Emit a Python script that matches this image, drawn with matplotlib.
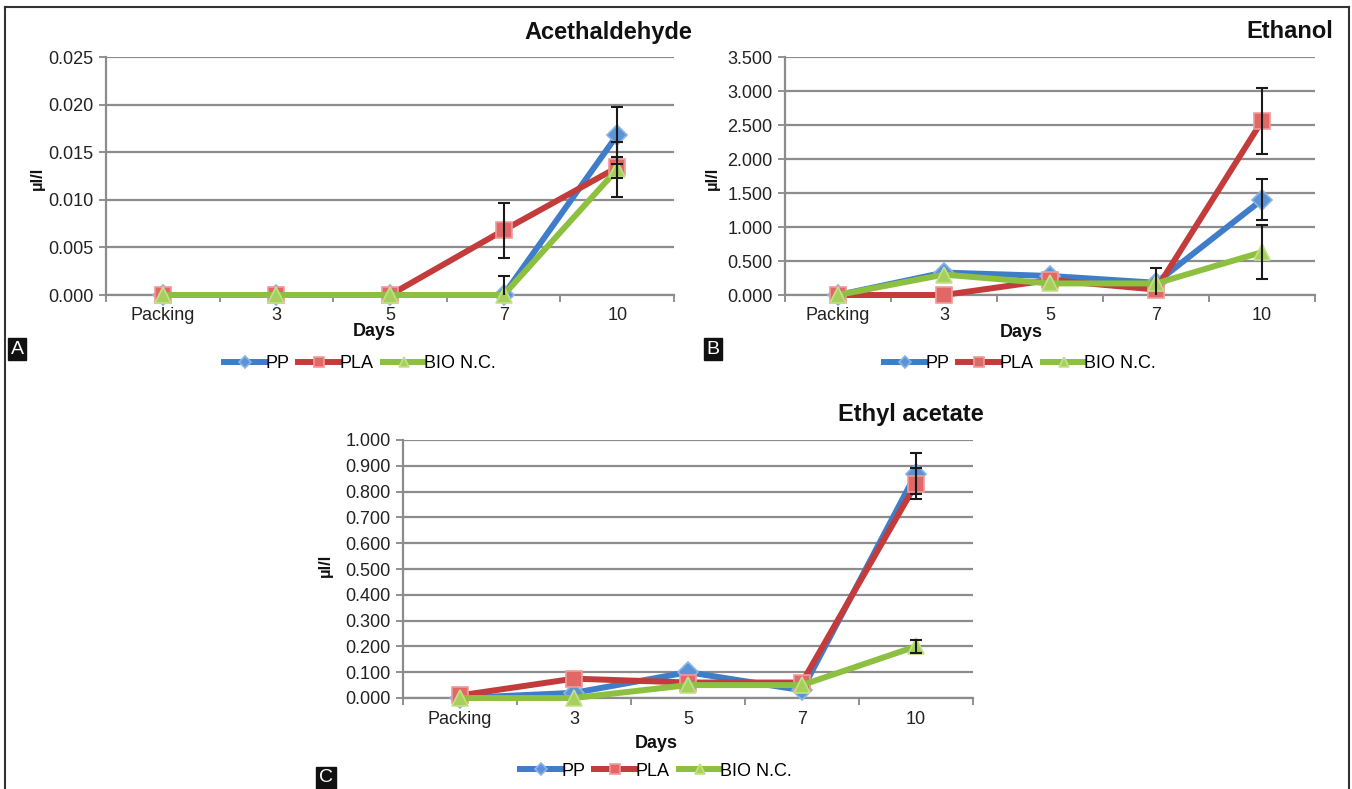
import matplotlib
matplotlib.use("Agg")
import matplotlib.pyplot as plt
from matplotlib.lines import Line2D
from matplotlib.ticker import FormatStrFormatter, MultipleLocator, FixedLocator

plt.rcParams["font.family"] = ["Liberation Sans", "DejaVu Sans"]

days = ["Packing", "3", "5", "7", "10"]
series = ["PP", "PLA", "BIO N.C."]

# Acetaldehyde (panel A)
acet_pp = [0.0, 0.0, 0.0, 0.0, 0.0168]
acet_pla = [0.0, 0.0, 0.0, 0.0068, 0.0134]
acet_bio = [0.0, 0.0, 0.0, 0.0, 0.0132]
acet_pp_err = [0, 0, 0, 0.002, 0.003]
acet_pla_err = [0, 0, 0, 0.0029, 0.0011]
acet_bio_err = [0, 0, 0, 0, 0.0029]

# Ethanol (panel B)
eth_pp = [0.0, 0.33, 0.28, 0.18, 1.40]
eth_pla = [0.0, 0.0, 0.22, 0.08, 2.56]
eth_bio = [0.0, 0.30, 0.17, 0.17, 0.63]
eth_pp_err = [0, 0, 0, 0.22, 0.30]
eth_pla_err = [0, 0, 0, 0, 0.49]
eth_bio_err = [0, 0, 0, 0, 0.40]

# Ethyl acetate (panel C)
ea_pp = [0.0, 0.02, 0.10, 0.03, 0.87]
ea_pla = [0.01, 0.075, 0.06, 0.06, 0.83]
ea_bio = [0.0, 0.0, 0.05, 0.05, 0.20]
ea_pp_err = [0, 0, 0, 0, 0.08]
ea_pla_err = [0, 0, 0, 0, 0.06]
ea_bio_err = [0, 0, 0, 0, 0.025]

line_colors = ["#3f7dc9", "#c43b3b", "#8dc040"]
face_colors = ["#5b93d6", "#e26868", "#a6cf5c"]
edge_colors = ["#8ab3e6", "#f09a9a", "#c2e08c"]
markers = ["D", "s", "^"]
msizes = [10, 11, 12]

W, H = 1352, 789
fig = plt.figure(figsize=(W / 100, H / 100), dpi=100)


def px_axes(x0, y0, x1, y1):
    return fig.add_axes([x0 / W, 1 - y1 / H, (x1 - x0) / W, (y1 - y0) / H])


def panel(ax, vals, errs, ymax, ystep, title, title_xy, days_xy, ylab_xy, leg_xy, letter_xy, letter):
    x = list(range(len(days)))
    handles = []
    for i, (v, e) in enumerate(zip(vals, errs)):
        h, = ax.plot(x, v, color=line_colors[i], lw=4.3, marker=markers[i], ms=msizes[i],
                     mfc=face_colors[i], mec=edge_colors[i], mew=1.2, zorder=3 + i,
                     solid_joinstyle="round", clip_on=False)
        handles.append(h)
        ex = [xi for xi, ei in zip(x, e) if ei > 0]
        ev = [vi for vi, ei in zip(v, e) if ei > 0]
        ee = [ei for ei in e if ei > 0]
        if ex:
            ax.errorbar(ex, ev, yerr=ee, fmt="none", ecolor="#1a1a1a", elinewidth=1.5,
                        capsize=4.5, capthick=1.5, zorder=10)
    ax.set_xlim(-0.5, len(days) - 0.5)
    ax.set_ylim(0, ymax)
    ax.yaxis.set_major_locator(MultipleLocator(ystep))
    ax.yaxis.set_major_formatter(FormatStrFormatter("%.3f"))
    ax.set_xticks(x)
    ax.set_xticklabels(days)
    ax.xaxis.set_minor_locator(FixedLocator([i - 0.5 for i in range(len(days) + 1)]))
    ax.tick_params(axis="x", which="major", length=0, labelsize=13, pad=9, colors="#222222")
    ax.tick_params(axis="x", which="minor", length=5, width=1.3, color="#888888", direction="out")
    ax.tick_params(axis="y", length=5, width=1.3, color="#888888", labelsize=13, pad=4,
                   labelcolor="#222222")
    ax.grid(axis="y", color="#8c8c8c", lw=1.6, zorder=0)
    ax.set_axisbelow(True)
    for s in ["top", "right"]:
        ax.spines[s].set_visible(False)
    for s in ["left", "bottom"]:
        ax.spines[s].set_color("#8c8c8c")
        ax.spines[s].set_linewidth(1.6)
    fig.text(title_xy[0] / W, 1 - title_xy[1] / H, title, ha="center", va="center",
             fontsize=17, fontweight="bold", color="#111111")
    fig.text(days_xy[0] / W, 1 - days_xy[1] / H, "Days", ha="center", va="center",
             fontsize=13, fontweight="bold", color="#111111")
    fig.text(ylab_xy[0] / W, 1 - ylab_xy[1] / H, "µl/l", ha="center", va="center",
             fontsize=12, fontweight="bold", rotation=90, color="#111111")
    fig.legend(handles, series, loc="center", bbox_to_anchor=(leg_xy[0] / W, 1 - leg_xy[1] / H),
               ncol=3, frameon=False, fontsize=13, handlelength=2.3, handletextpad=0.0,
               columnspacing=0.5, markerscale=0.6, borderpad=0.2)
    fig.text(letter_xy[0] / W, 1 - letter_xy[1] / H, letter, ha="center", va="center",
             fontsize=14, color="white",
             bbox=dict(boxstyle="square,pad=0.15", fc="#111111", ec="#111111"))


ax_a = px_axes(106, 57, 674, 295)
panel(ax_a, [acet_pp, acet_pla, acet_bio], [acet_pp_err, acet_pla_err, acet_bio_err],
      0.025, 0.005, "Acethaldehyde", (608, 33), (374, 331), (37, 178), (360, 364), (17, 349), "A")

ax_b = px_axes(785, 57, 1315, 295)
panel(ax_b, [eth_pp, eth_pla, eth_bio], [eth_pp_err, eth_pla_err, eth_bio_err],
      3.5, 0.5, "Ethanol", (1290, 31), (1021, 333), (712, 178), (1020, 364), (713, 349), "B")

ax_c = px_axes(403, 440, 973, 698)
panel(ax_c, [ea_pp, ea_pla, ea_bio], [ea_pp_err, ea_pla_err, ea_bio_err],
      1.0, 0.1, "Ethyl acetate", (911, 415), (656, 744), (325, 565), (656, 771), (326, 778), "C")

# outer frame
fig.add_artist(Line2D([5 / W, 5 / W], [0, 1 - 7 / H], color="#333333", lw=1.5))
fig.add_artist(Line2D([5 / W, 1349 / W], [1 - 7 / H, 1 - 7 / H], color="#333333", lw=1.5))
fig.add_artist(Line2D([1349 / W, 1349 / W], [0, 1 - 7 / H], color="#333333", lw=1.5))

fig.savefig("out.png", dpi=100)
